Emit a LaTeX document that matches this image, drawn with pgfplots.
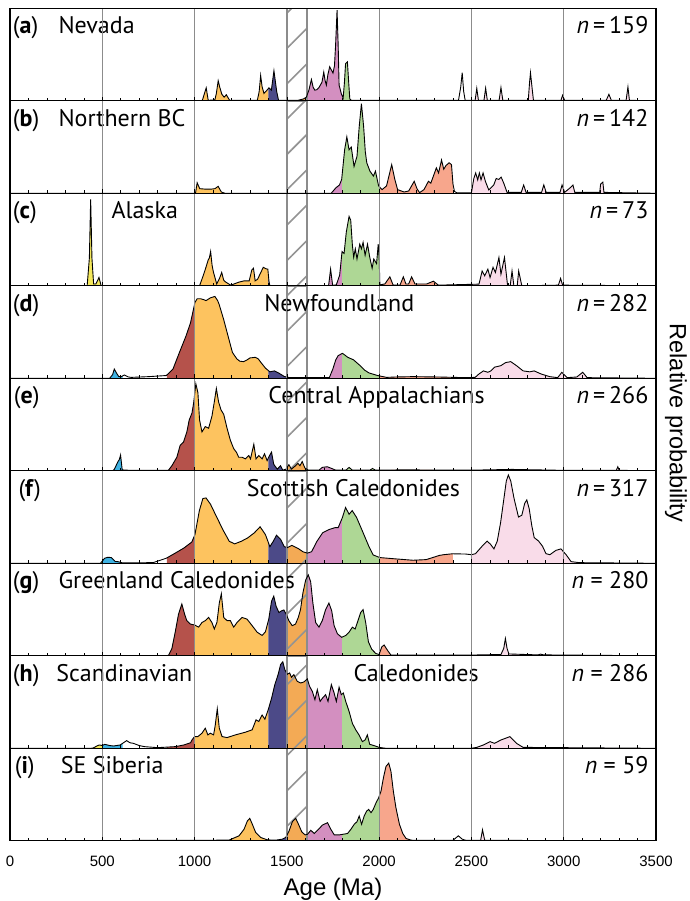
\documentclass[border=0pt]{standalone}
\usepackage{pgfplots}
\pgfplotsset{compat=1.18}
\usepackage{pgfplotstable}
\usepgfplotslibrary{fillbetween}
\usetikzlibrary{patterns.meta}
\usepackage{fontspec}
\setmainfont{PT Sans}
\newfontfamily\lsans{Liberation Sans}

\definecolor{cYel}{HTML}{F4E85C}
\definecolor{cCyan}{HTML}{3FB2E2}
\definecolor{cRed}{HTML}{B5524B}
\definecolor{cOr}{HTML}{FDC35F}
\definecolor{cBlue}{HTML}{4C4A88}
\definecolor{cHat}{HTML}{F3AA55}
\definecolor{cPur}{HTML}{D38FC0}
\definecolor{cGreen}{HTML}{AED795}
\definecolor{cSal}{HTML}{F7A68C}
\definecolor{cPink}{HTML}{F9DCE9}

\newcommand{\lbl}{\fontsize{24bp}{26bp}\selectfont}

% ---- data: age (Ma), relative height (% of panel) ----
\pgfplotstableread{
x y
0 0
1030 0
1042 0.5
1063 14
1074 0.5
1110 1
1118 8
1128 21.7
1136 15
1148 7
1160 4
1172 6.5
1190 0.5
1340 0.5
1350 10
1358 27.4
1366 15
1376 8
1390 11
1403 14
1416 11.5
1430 32.5
1445 10
1455 0.5
1560 0.5
1590 2
1606 4
1620 12
1633 23
1642 15
1651 11.5
1662 12
1674 14.4
1690 20
1700 31
1707 22
1714 17
1722 28
1732 36.8
1742 33
1750 30
1758 38
1764 60
1772 98
1778 60
1783 17
1796 7
1805 3
1812 20
1818 40
1828 42
1835 20
1841 2
1850 0.5
2430 0.5
2442 15
2450 30.3
2458 10
2466 0.5
2520 0.5
2529 13.4
2538 0.5
2568 0.5
2577 13.7
2586 0.5
2650 0.5
2660 14.4
2670 0.5
2808 0.5
2815 20
2820 30.3
2828 15
2836 0.5
2985 0.5
2994 6
3005 0.5
3230 0.5
3245 7
3258 0.5
3338 0.5
3348 15
3356 0.5
3500 0
}\dA

\pgfplotstableread{
x y
0 0
1005 0
1014 11.4
1028 5
1060 4.5
1090 4.5
1110 5
1128 7.5
1145 1.4
1165 0
1740 0
1766 6
1785 9
1797 15
1813 47
1825 61
1837 47
1849 50
1864 29
1880 40
1892 72
1904 97
1916 72
1925 45
1933 33
1950 24
1969 18.6
1980 24
1997 8
2016 4
2040 8
2068 31
2085 15
2100 4
2135 1.4
2160 2.5
2190 13
2205 5
2219 0.7
2243 4
2267 13
2280 11
2291 17
2310 27.5
2322 22
2338 36
2350 26
2362 30
2379 33
2392 31
2400 10
2408 2
2422 0.5
2500 0.5
2513 16
2523 22
2534 14.5
2543 22
2552 14.5
2563 22
2576 12.7
2594 3.6
2621 9
2634 16
2648 15
2661 17.5
2675 11
2693 1
2770 1
2783 9
2796 1
2880 1
2892 9
2905 1
2980 1
2991 9
3005 1
3035 6
3050 9
3060 1
3195 1
3200 10
3212 12
3218 1
3500 0
}\dB

\pgfplotstableread{
x y
0 0
418 0
430 30
437 93.5
444 30
453 2
465 2
475 6
482 9
490 3
494 0
1027 0
1045 10
1060 19
1074 28
1080 30
1087 37
1095 22
1102 15
1120 2
1135 8
1147 14.4
1158 6
1169 4
1196 0.7
1241 4
1269 5.4
1296 5.4
1310 17
1319 19
1324 12
1328 5.4
1341 7
1359 14.4
1372 20
1387 18.4
1397 18
1403 5
1408 0
1726 0
1737 18
1748 0.5
1768 1
1786 11.5
1799 37
1810 35
1822 58
1837 75
1846 71
1855 44
1862 31
1871 40
1880 29
1895 45
1904 40
1913 47
1924 33
1937 45
1949 31
1962 19
1971 29
1986 24
1995 45
2000 30
2004 1
2031 2
2058 9.7
2076 0.7
2113 0.7
2131 9.7
2145 2
2160 2
2176 9.7
2194 2
2258 2
2294 5
2321 0.7
2541 1.8
2558 16
2572 10.8
2589 18
2601 9
2617 20
2630 14.4
2649 30.6
2660 12.6
2679 30.6
2696 0
2710 0
2720 16
2730 0
2748 0
2756 16
2773 0
2971 0.7
2983 8
2994 0.7
3500 0
}\dC

\pgfplotstableread{
x y
0 0
540 0
556 4
565 10
580 4.7
589 2
600 1.5
620 3.6
640 1.5
656 1
752 1.8
847 3
883 10
918 28
954 46
978 60
1002 82
1014 86
1033 86
1050 85
1062 84
1086 87
1110 88.5
1125 84
1133 80
1157 64
1181 46
1205 28
1229 21
1245 18.5
1265 18
1285 20
1300 22
1329 22.7
1345 21
1360 17
1384 11
1408 7
1432 8
1455 5.8
1486 2
1515 0.7
1730 0.7
1749 10
1765 20
1778 24.5
1801 27
1815 25
1830 22.7
1861 20
1897 13.7
1920 9
1945 5.8
1992 3
2040 1
2088 1.4
2183 1.8
2326 1.4
2470 0.7
2520 1
2541 4.7
2565 8
2589 6.5
2605 8
2625 12
2660 13.7
2685 17
2713 18
2744 13.7
2780 8
2816 7
2840 8
2877 4.7
2924 1.8
2967 0.7
2990 6.5
3018 0.7
3071 1.4
3103 6.5
3127 0.7
3500 0
}\dD

\pgfplotstableread{
x y
0 0
555 0
565 1.5
585 10
592 12
599 17
604 8
608 1
650 0.5
850 0.5
859 0.7
877 5.5
904 14.7
922 27.6
940 31
958 42
971 55
986 62.5
995 73.5
1007 94
1018 84.6
1027 55
1040 42
1058 47.8
1076 46
1094 59
1107 74.6
1118 89
1130 74.6
1143 66
1158 61
1176 46
1194 33
1212 24
1227 20
1239 14.7
1257 14.7
1275 12.9
1294 16.5
1303 12.9
1321 28.7
1333 12.9
1348 16.5
1366 12.9
1379 18.4
1393 11
1406 16.5
1417 20.2
1429 7
1448 1.8
1466 5.5
1478 0.7
1496 1.8
1511 6.6
1525 1.8
1547 5.5
1560 8
1571 5.5
1583 10
1598 3
1616 0.7
1674 0.7
1692 3.7
1719 4.4
1737 3
1765 0.7
1820 0.7
1837 3.7
1855 0.7
1950 0.7
1964 2.5
1980 0.7
2127 1
2500 0.7
2720 1.5
3000 0.5
3285 0.5
3293 4.4
3301 0.5
3500 0
}\dE

\pgfplotstableread{
x y
0 0
490 0
513 5.5
530 6.5
549 6.2
570 2
585 1.8
608 0.5
775 0.7
847 5.5
895 11
942 16.5
985 23
1002 31
1026 57
1045 70
1062 70.7
1086 64
1121 49.5
1157 35
1188 23.8
1217 21
1253 23.8
1288 27.5
1324 33
1355 39.5
1384 31
1408 18
1427 24
1444 30.4
1467 25.6
1486 18
1503 17
1527 19.4
1563 15.8
1587 12.5
1611 11
1634 12.5
1663 23.8
1694 33
1730 36.6
1760 38.5
1778 38.5
1801 49.5
1818 60.4
1837 53
1854 57
1878 49.5
1909 35
1945 18
1968 9
2004 6.2
2088 4.8
2183 3.3
2255 4
2326 8.5
2349 9.3
2398 10.3
2470 10
2500 9.3
2522 10.4
2558 18.5
2585 24
2604 20.4
2622 15.6
2640 24
2658 44
2676 70
2689 89
2700 95.5
2713 89
2731 70
2755 50
2773 52
2789 65
2800 68.5
2813 59
2827 40.7
2840 27.8
2864 24
2885 18.5
2904 10.4
2925 9.3
2958 14
2985 15.6
3013 9.3
3040 1.8
3085 0.7
3500 0
}\dF

\pgfplotstableread{
x y
0 0
850 0
859 0.7
877 7.8
895 25.5
913 45
931 56
946 45
958 38
976 34.4
1000 33.3
1022 31
1040 36
1058 38
1076 41.5
1094 36
1107 29
1121 36
1134 57
1145 67
1158 41.5
1176 38
1194 38
1212 31
1230 36
1257 41.5
1284 39.7
1312 32.6
1339 25.5
1366 22
1384 26
1402 39.7
1417 59
1429 64.5
1442 53.5
1457 46.8
1471 48.6
1484 49.6
1496 45
1511 38
1529 32.6
1547 34.4
1562 41.5
1574 50
1587 68
1602 82
1616 87.6
1629 80
1641 57
1656 36
1674 31
1692 38
1710 50
1728 57
1743 48.6
1756 32.6
1774 23.8
1797 20
1819 22
1837 25.5
1855 31
1870 29
1882 36
1900 46.8
1913 50
1927 36
1942 15
1960 7
1982 2.5
2000 1.4
2014 9.6
2027 11.7
2045 6
2064 0.7
2500 0.7
2541 1
2660 1.4
2675 8
2684 18.7
2693 8
2703 2
2860 1
2875 1.8
2890 1
3500 0
}\dG

\pgfplotstableread{
x y
0 0
440 0
453 0.5
470 2.5
484 3.6
500 3
513 4.3
540 3
561 2.5
597 3.6
632 8.3
650 6
668 5.4
700 3
728 1.8
799 0.7
895 1.8
942 3.6
978 6
986 9
1000 12.7
1018 12.7
1040 16.3
1058 21.7
1072 14.5
1085 16.3
1103 14.5
1112 25
1123 42.8
1134 21.7
1149 12.7
1176 11.6
1221 14.5
1275 17.4
1312 20
1333 30.8
1348 29
1366 36
1381 31.5
1399 41.7
1417 54
1435 69
1453 80
1466 90.6
1478 93.5
1489 85
1502 80
1515 81.5
1525 76.8
1538 79.7
1556 72.5
1574 70.6
1592 71.7
1611 75
1623 67
1638 61.6
1652 52.5
1665 63.4
1680 50.7
1692 54
1710 58
1723 50.7
1741 68.8
1756 59.8
1768 50.7
1783 66
1795 58
1806 59.8
1819 50.7
1837 40
1855 27
1873 20
1891 14.5
1909 7.2
1924 9
1936 14.5
1949 4.3
1973 2.9
2000 1
2036 0
2500 0
2529 1
2565 3.6
2601 7.2
2625 5.4
2660 9
2708 12.6
2744 5.4
2780 1
3500 0
}\dH

\pgfplotstableread{
x y
0 0
1186 0.7
1241 5.4
1268 12.5
1286 21.4
1299 24.3
1313 17.9
1331 9
1358 3.6
1395 1
1440 0.7
1476 1.8
1494 3.6
1512 10.7
1530 20.7
1548 24.3
1563 17.9
1581 9.6
1599 6.4
1612 7.1
1630 11.4
1648 7.9
1666 11.4
1693 17
1720 19.6
1738 12.5
1757 6.4
1784 6.4
1805 7.1
1829 7.9
1847 12.5
1865 17.8
1880 20.7
1892 26.8
1905 17.9
1919 26.8
1932 32
1943 34
1956 30.4
1968 34
1983 41
1997 46.4
2010 53.6
2023 67.9
2037 80.4
2052 84
2064 75
2077 53.6
2091 35.7
2110 17.8
2128 7.9
2146 2.5
2173 0.7
2218 0.4
2400 0.5
2429 5.4
2450 1.8
2470 0.5
2550 0.5
2560 11.9
2572 0.5
3500 0
}\dI

\pgfplotsset{
  panel/.style={
    at={(10bp,#1)}, anchor=north west,
    width=646bp, height=92.5bp, scale only axis,
    xmin=0, xmax=3500, ymin=0, ymax=100,
    axis on top,
    axis line style={black, line width=1.3bp},
    xtick={0,500,...,3500}, ytick=\empty,
    minor x tick num=4,
    tick pos=bottom, tick align=inside,
    major tick length=4bp, minor tick length=3bp,
    every tick/.style={black, line width=0.5bp},
    grid=major, major grid style={gray!90, line width=0.9bp},
    xticklabel=\empty,
  },
}
\tikzset{lb/.style={font=\lbl, inner sep=0pt, yshift=-25.5bp}}

% colour bands, hatch, then the curve itself
\newcommand{\band}[3]{%
  \addplot[fill=#1, draw=none] fill between[of=curve and base, soft clip={domain=#2:#3}];
}
\newcommand{\panelbody}[1]{%
  \addplot[draw=none, name path=curve] table {#1};
  \addplot[draw=none, name path=base] coordinates {(0,-3) (3500,-3)};
  \band{cYel}{400}{500}
  \band{cCyan}{500}{610}
  \band{cRed}{850}{1000}
  \band{cOr}{1000}{1400}
  \band{cBlue}{1400}{1500}
  \band{cHat}{1500}{1610}
  \band{cPur}{1610}{1800}
  \band{cGreen}{1800}{2000}
  \band{cSal}{2000}{2400}
  \band{cPink}{2500}{3500}
  \addplot[draw=gray!90, line width=1.6bp,
    pattern={Lines[angle=45, distance=25bp, line width=1.6bp]}, pattern color=gray!85]
    coordinates {(1500,0) (1500,100) (1610,100) (1610,0)};
  \addplot[black, line width=0.9bp] table {#1};
}

\begin{document}
\begin{tikzpicture}

\begin{axis}[panel=-8.3bp]
  \panelbody{\dA}
  \node[lb, anchor=base west] at (axis cs:15,100) {(\textbf{a})};
  \node[lb, anchor=base west] at (axis cs:262,100) {Nevada};
  \node[lb, anchor=base east] at (axis cs:3460,100) {\textit{n}\,=\,159};
\end{axis}

\begin{axis}[panel=-100.8bp]
  \panelbody{\dB}
  \node[lb, anchor=base west] at (axis cs:15,100) {(\textbf{b})};
  \node[lb, anchor=base west] at (axis cs:262,100) {Northern BC};
  \node[lb, anchor=base east] at (axis cs:3460,100) {\textit{n}\,=\,142};
\end{axis}

\begin{axis}[panel=-193.3bp]
  \panelbody{\dC}
  \node[lb, anchor=base west] at (axis cs:15,100) {(\textbf{c})};
  \node[lb, anchor=base west] at (axis cs:549,100) {Alaska};
  \node[lb, anchor=base east] at (axis cs:3460,100) {\textit{n}\,=\,73};
\end{axis}

\begin{axis}[panel=-285.8bp]
  \panelbody{\dD}
  \node[lb, anchor=base west] at (axis cs:15,100) {(\textbf{d})};
  \node[lb, anchor=base] at (axis cs:1784,100) {Newfoundland};
  \node[lb, anchor=base east] at (axis cs:3460,100) {\textit{n}\,=\,282};
\end{axis}

\begin{axis}[panel=-378.3bp]
  \panelbody{\dE}
  \node[lb, anchor=base west] at (axis cs:20,100) {(\textbf{e})};
  \node[lb, anchor=base] at (axis cs:1986,100) {Central Appalachians};
  \node[lb, anchor=base east] at (axis cs:3460,100) {\textit{n}\,=\,266};
\end{axis}

\begin{axis}[panel=-470.8bp]
  \panelbody{\dF}
  \node[lb, anchor=base west] at (axis cs:45,100) {(\textbf{f})};
  \node[lb, anchor=base] at (axis cs:1861,100) {Scottish Caledonides};
  \node[lb, anchor=base east] at (axis cs:3460,100) {\textit{n}\,=\,317};
\end{axis}

\begin{axis}[panel=-563.3bp]
  \panelbody{\dG}
  \node[lb, anchor=base west] at (axis cs:15,100) {(\textbf{g})};
  \node[lb, anchor=base west] at (axis cs:262,100) {Greenland Caledonides};
  \node[lb, anchor=base east] at (axis cs:3460,100) {\textit{n} = 280};
\end{axis}

\begin{axis}[panel=-655.8bp]
  \panelbody{\dH}
  \node[lb, anchor=base west] at (axis cs:15,100) {(\textbf{h})};
  \node[lb, anchor=base west] at (axis cs:250,100) {Scandinavian};
  \node[lb, anchor=base west] at (axis cs:1861,100) {Caledonides};
  \node[lb, anchor=base east] at (axis cs:3460,100) {\textit{n} = 286};
\end{axis}

\begin{axis}[panel=-748.3bp,
    xticklabel={\pgfmathprintnumber[1000 sep={}]{\tick}},
    xticklabel style={font=\lsans\fontsize{15bp}{15bp}\selectfont, anchor=base, yshift=-26bp},
    /pgf/number format/assume math mode=true,
    xlabel={Age (Ma)},
    xlabel style={font=\lsans\fontsize{24bp}{26bp}\selectfont, anchor=base,
      at={(axis description cs:0.5,0)}, yshift=-55bp}]
  \panelbody{\dI}
  \node[lb, anchor=base west] at (axis cs:25,100) {(\textbf{i})};
  \node[lb, anchor=base west] at (axis cs:274,100) {SE Siberia};
  \node[lb, anchor=base east] at (axis cs:3460,100) {\textit{n} = 59};
\end{axis}

\node[rotate=-90, anchor=center, inner sep=0pt, font=\lsans\fontsize{23.5bp}{26bp}\selectfont] at (676bp,-423bp) {Relative probability};
\pgfresetboundingbox
\path[use as bounding box] (0,0) rectangle (690bp,-901bp);
\end{tikzpicture}
\end{document}
